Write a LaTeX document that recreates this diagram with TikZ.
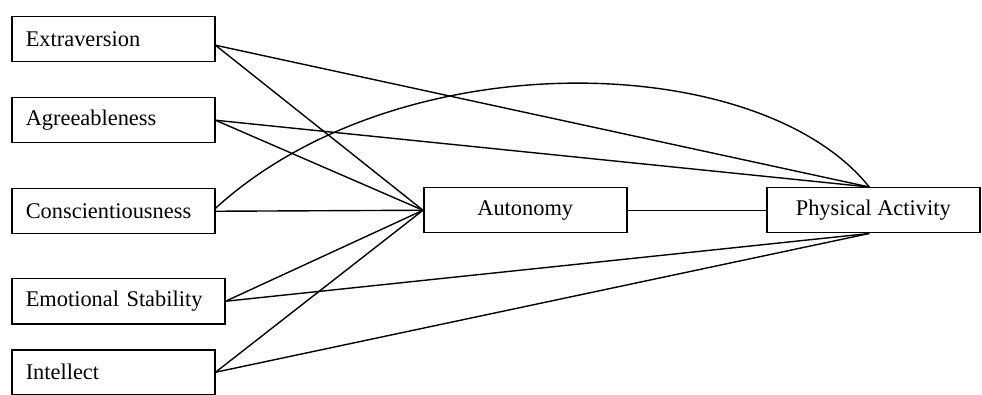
\documentclass[tikz,border=0pt]{standalone}
\usepackage{fontspec}
\setmainfont{Liberation Serif}
\begin{document}
\begin{tikzpicture}[x=1pt,y=-1pt,
  box/.style={draw, line width=1.5pt, fill=white, rectangle, minimum height=45pt, inner ysep=0pt,
    font=\fontsize{22.4}{26}\selectfont},
  lbox/.style={box, anchor=north west, inner xsep=14pt, text width=#1, align=left},
  cbox/.style={box, anchor=north west, minimum width=#1, align=center},
  link/.style={line width=1.4pt}]
\useasboundingbox (0,0) rectangle (982,395);
\node[lbox=175pt] (ext) at (11,16) {Extraversion};
\node[lbox=175pt] (agr) at (11,97) {Agreeableness};
\node[lbox=175pt] (con) at (11,188) {Conscientiousness};
\node[lbox=185pt] (emo) at (11,278) {Emotional Stability};
\node[lbox=175pt] (int) at (11,349) {Intellect};
\node[cbox=203pt] (aut) at (423,187) {Autonomy};
\node[cbox=213pt] (pa) at (766,187) {Physical Activity};
\coordinate (pat) at ([xshift=-4pt]pa.north);
\coordinate (pab) at ([xshift=-4pt]pa.south);
\coordinate (extE) at ([yshift=-6pt]ext.east);
\coordinate (conE) at ([yshift=3pt]con.east);
\draw[link] (extE) -- (aut.west);
\draw[link] (extE) -- (pat);
\draw[link] (agr.east) -- (aut.west);
\draw[link] (agr.east) -- (pat);
\draw[link] (con.east) -- (aut.west);
\draw[link] (conE) .. controls (400,40) and (760,50) .. (pat);
\draw[link] (emo.east) -- (aut.west);
\draw[link] (emo.east) -- (pab);
\draw[link] (int.east) -- (aut.west);
\draw[link] (int.east) -- (pab);
\draw[link] (aut.east) -- (pa.west);
\end{tikzpicture}
\end{document}
